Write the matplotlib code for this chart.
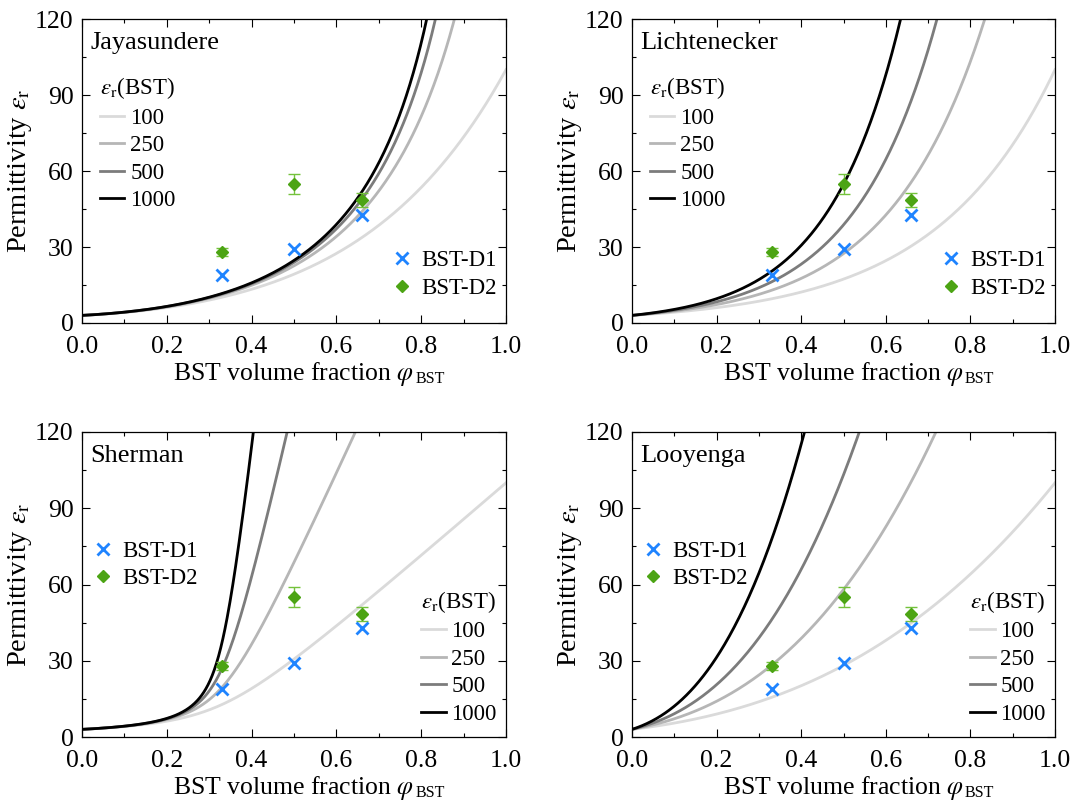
import numpy as np
import matplotlib
matplotlib.use("Agg")
import matplotlib.pyplot as plt
from matplotlib.ticker import MultipleLocator

plt.rcParams["font.family"] = ["Liberation Serif", "DejaVu Serif"]
plt.rcParams["mathtext.fontset"] = "stix"

# matrix permittivity and BST permittivities used for the model curves
EPS_MATRIX = 3.0
EPS_BST = [100, 250, 500, 1000]
LINE_COLORS = ["#dadada", "#b6b6b6", "#7c7c7c", "#000000"]

# measured samples
PHI_SAMPLES = [0.33, 0.50, 0.66]
D1_EPS = [19.0, 29.2, 42.8]
D2_EPS = [28.0, 55.0, 48.5]
D2_ERR = [1.5, 4.0, 2.7]

MODELS = ["Jayasundere", "Lichtenecker", "Sherman", "Looyenga"]

BLUE = "#1f84ff"
GREEN = "#4ca414"
GREEN_ERR = "#74c23c"

TICK_FS = 18.5
LEG_FS = 16.5


def jayasundere(phi, em, ef):
    a = 3 * em / (ef + 2 * em)
    b = 1 + 3 * phi * (ef - em) / (ef + 2 * em)
    return (em * (1 - phi) + ef * phi * a * b) / ((1 - phi) + phi * a * b)


def lichtenecker(phi, em, ef):
    return np.exp(phi * np.log(ef) + (1 - phi) * np.log(em))


def sherman(phi, em, ef):
    b = (3 * phi - 1) * ef + (2 - 3 * phi) * em
    return (b + np.sqrt(b * b + 8 * em * ef)) / 4


def looyenga(phi, em, ef):
    return (phi * ef ** (1 / 3) + (1 - phi) * em ** (1 / 3)) ** 3


MODEL_FUNCS = {"Jayasundere": jayasundere, "Lichtenecker": lichtenecker,
               "Sherman": sherman, "Looyenga": looyenga}

fig = plt.figure(figsize=(10.84, 8.02), dpi=100)
positions = [
    [82 / 1084, 1 - 323 / 802, 424 / 1084, 304 / 802],
    [632 / 1084, 1 - 323 / 802, 423 / 1084, 304 / 802],
    [82 / 1084, 1 - 737 / 802, 424 / 1084, 305 / 802],
    [632 / 1084, 1 - 737 / 802, 423 / 1084, 305 / 802],
]

phi = np.linspace(0, 1, 600)
leg_kw = dict(frameon=False, fontsize=LEG_FS, handlelength=1.05,
              labelspacing=0.28, borderaxespad=0.0)

for i, name in enumerate(MODELS):
    ax = fig.add_axes(positions[i])
    func = MODEL_FUNCS[name]
    eps_handles = []
    for ef, c in zip(EPS_BST, LINE_COLORS):
        ln, = ax.plot(phi, func(phi, EPS_MATRIX, ef), color=c, lw=2.0,
                      label=str(ef), zorder=2)
        eps_handles.append(ln)

    ax.errorbar(PHI_SAMPLES, D2_EPS, yerr=D2_ERR, fmt="none", ecolor=GREEN_ERR,
                elinewidth=1.0, capsize=4, capthick=1.0, zorder=3)
    d2, = ax.plot(PHI_SAMPLES, D2_EPS, "D", color=GREEN, ms=6, ls="none",
                  label="BST-D2", zorder=4)
    d1, = ax.plot(PHI_SAMPLES, D1_EPS, "x", color=BLUE, ms=8, mew=2.0, ls="none",
                  label="BST-D1", zorder=4)

    ax.set_xlim(0, 1)
    ax.set_ylim(0, 120)
    ax.xaxis.set_major_locator(MultipleLocator(0.2))
    ax.xaxis.set_minor_locator(MultipleLocator(0.1))
    ax.yaxis.set_major_locator(MultipleLocator(30))
    ax.yaxis.set_minor_locator(MultipleLocator(15))
    ax.set_xticklabels([f"{v:.1f}" for v in ax.get_xticks()])
    ax.tick_params(which="both", direction="in", top=True, right=True, width=0.8)
    ax.tick_params(which="major", length=6, labelsize=TICK_FS)
    ax.tick_params(axis="x", which="major", pad=9.5)
    ax.tick_params(axis="y", which="major", pad=6)
    ax.tick_params(which="minor", length=3)
    for s in ax.spines.values():
        s.set_linewidth(0.9)

    ax.set_xlabel(r"BST volume fraction $\varphi$", fontsize=18.5, labelpad=1)
    ax.annotate("BST", xy=(1.0, 0.0), xycoords=ax.xaxis.label,
                xytext=(0.5, 0.5), textcoords="offset points",
                fontsize=11.5, ha="left", va="bottom")
    ax.set_ylabel(r"Permittivity $\varepsilon_\mathrm{r}$", fontsize=20.5, labelpad=1)
    ax.text(0.02, 0.92, name, transform=ax.transAxes, fontsize=19,
            ha="left", va="center")

    if i < 2:
        leg1 = ax.legend(handles=eps_handles, title=r"$\varepsilon_\mathrm{r}$(BST)",
                         loc="upper left", bbox_to_anchor=(0.021, 0.845),
                         title_fontsize=LEG_FS, handletextpad=0.26,
                         alignment="left", **leg_kw)
        ax.add_artist(leg1)
        ax.legend(handles=[d1, d2], loc="lower right", bbox_to_anchor=(1.0, 0.05),
                  handletextpad=0.33, **leg_kw)
    else:
        leg1 = ax.legend(handles=eps_handles, title=r"$\varepsilon_\mathrm{r}$(BST)",
                         loc="lower right", bbox_to_anchor=(1.0, 0.01),
                         title_fontsize=LEG_FS, handletextpad=0.26,
                         alignment="left", **leg_kw)
        ax.add_artist(leg1)
        ax.legend(handles=[d1, d2], loc="center left", bbox_to_anchor=(0.0, 0.564),
                  handletextpad=0.33, **leg_kw)

fig.savefig("out.png", dpi=100)
